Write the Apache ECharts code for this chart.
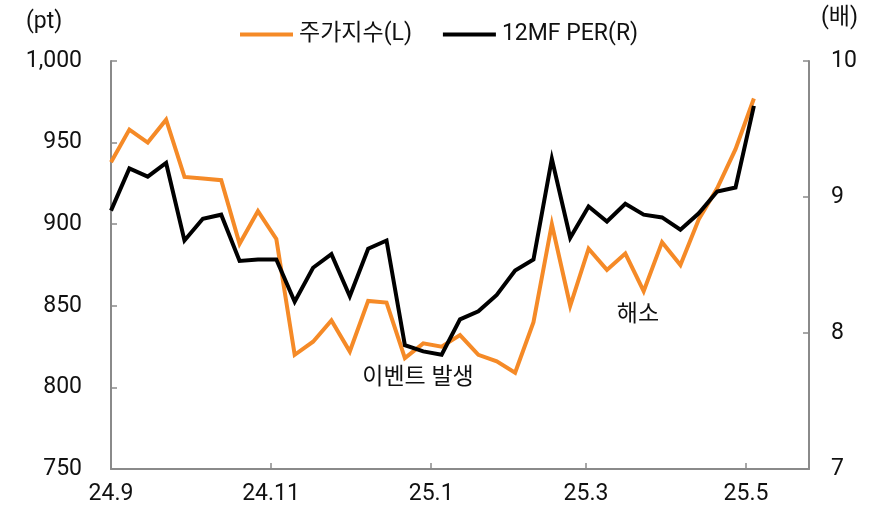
<!DOCTYPE html>
<html>
<head>
<meta charset="utf-8">
<script src="https://cdn.jsdelivr.net/npm/echarts@6/dist/echarts.min.js"></script>
<style>
html, body { margin: 0; padding: 0; background: #fff; }
#chart { width: 874px; height: 508px; }
</style>
</head>
<body>
<div id="chart"></div>
<script>
// weekly observations
var dates = ['2024-09-01','2024-09-08','2024-09-15','2024-09-22','2024-09-29',
	'2024-10-06','2024-10-13','2024-10-20','2024-10-27',
	'2024-11-03','2024-11-10','2024-11-17','2024-11-24',
	'2024-12-01','2024-12-08','2024-12-15','2024-12-22','2024-12-29',
	'2025-01-05','2025-01-12','2025-01-19','2025-01-26',
	'2025-02-02','2025-02-09','2025-02-16','2025-02-23',
	'2025-03-02','2025-03-09','2025-03-16','2025-03-23','2025-03-30',
	'2025-04-06','2025-04-13','2025-04-20','2025-04-27','2025-05-04'];
var stockIndex = [938, 958, 950, 964, 929, 928, 927, 888, 908, 891,
	820, 828, 841, 822, 853, 852, 818, 827, 825, 832,
	820, 816, 809, 840, 900, 850, 885, 872, 882, 859,
	889, 875, 903, 922, 946, 977];
var per = [8.90, 9.21, 9.15, 9.25, 8.68, 8.84, 8.87, 8.53, 8.54, 8.54,
	8.23, 8.48, 8.58, 8.27, 8.62, 8.68, 7.91, 7.865, 7.84, 8.10,
	8.16, 8.28, 8.46, 8.54, 9.28, 8.70, 8.93, 8.82, 8.95, 8.87,
	8.85, 8.76, 8.88, 9.04, 9.07, 9.67];
var monthTicks = ['2024-09-01','2024-11-01','2025-01-01','2025-03-01','2025-05-01'];
var monthLabels = ['24.9', '24.11', '25.1', '25.3', '25.5'];
var seriesNames = ['주가지수(L)', '12MF PER(R)'];

var DAY = 86400000;
var START = '2024-09-01', END = '2025-05-25';
function toDay(s){
	var p = s.split('-');
	return Math.round((Date.UTC(+p[0], +p[1] - 1, +p[2]) - Date.UTC(2024, 8, 1)) / DAY);
}

var FONT = "Roboto, 'Noto Sans CJK KR', sans-serif";
var FS = 23;
var AXIS_COLOR = '#8a8a8a';
var tickDays = monthTicks.map(toDay);

var option = {
	animation: false,
	textStyle: { fontFamily: FONT },
	legend: {
		left: 240,
		top: 23,
		padding: 0,
		icon: 'rect',
		itemWidth: 53,
		itemHeight: 4,
		itemGap: 31,
		textStyle: { fontSize: FS, color: '#111', fontFamily: FONT, padding: [0, 0, 0, 1] },
		data: seriesNames
	},
	grid: { left: 111, right: 65, top: 61, bottom: 39, containLabel: false },
	xAxis: {
		type: 'value',
		min: toDay(START),
		max: toDay(END),
		splitLine: { show: false },
		axisLine: { lineStyle: { color: AXIS_COLOR, width: 2 } },
		axisTick: { inside: true, length: 6, lineStyle: { color: AXIS_COLOR, width: 1.5 }, customValues: tickDays },
		axisLabel: {
			customValues: tickDays,
			fontSize: FS, color: '#111', margin: 14,
			formatter: function(v){
				var i = tickDays.indexOf(v);
				return i >= 0 ? monthLabels[i] : '';
			}
		}
	},
	yAxis: [{
		type: 'value',
		min: 750, max: 1000, interval: 50,
		splitLine: { show: false },
		axisLine: { show: true, lineStyle: { color: AXIS_COLOR, width: 2 } },
		axisTick: { show: true, inside: true, length: 6, lineStyle: { color: AXIS_COLOR, width: 1.5 } },
		axisLabel: {
			fontSize: FS, color: '#111', margin: 29,
			formatter: function(v){ return v.toLocaleString('en-US'); }
		}
	}, {
		type: 'value',
		min: 7, max: 10, interval: 1,
		splitLine: { show: false },
		axisLine: { show: true, lineStyle: { color: AXIS_COLOR, width: 2 } },
		axisTick: { show: true, inside: true, length: 6, lineStyle: { color: AXIS_COLOR, width: 1.5 } },
		axisLabel: { fontSize: FS, color: '#111', margin: 22 }
	}],
	graphic: [
		{ type: 'text', left: 26, top: 11, style: { text: '(pt)', fontSize: FS, fill: '#111', fontFamily: FONT } },
		{ type: 'text', left: 821, top: 7, style: { text: '(배)', fontSize: FS, fill: '#111', fontFamily: FONT } },
		{ type: 'text', x: 418, y: 378, style: { text: '이벤트 발생', fontSize: FS, fill: '#111', fontFamily: FONT, align: 'center', verticalAlign: 'middle' } },
		{ type: 'text', x: 638, y: 315, style: { text: '해소', fontSize: FS, fill: '#111', fontFamily: FONT, align: 'center', verticalAlign: 'middle' } }
	],
	series: [{
		name: seriesNames[0],
		type: 'line',
		yAxisIndex: 0,
		symbol: 'none',
		lineStyle: { color: '#f58a27', width: 4, join: 'miter' },
		itemStyle: { color: '#f58a27' },
		data: dates.map(function(d, i){ return [toDay(d), stockIndex[i]]; })
	}, {
		name: seriesNames[1],
		type: 'line',
		yAxisIndex: 1,
		symbol: 'none',
		lineStyle: { color: '#000', width: 4, join: 'miter' },
		itemStyle: { color: '#000' },
		data: dates.map(function(d, i){ return [toDay(d), per[i]]; })
	}]
};

var chart = echarts.init(document.getElementById('chart'));
chart.setOption(option);
</script>
</body>
</html>
